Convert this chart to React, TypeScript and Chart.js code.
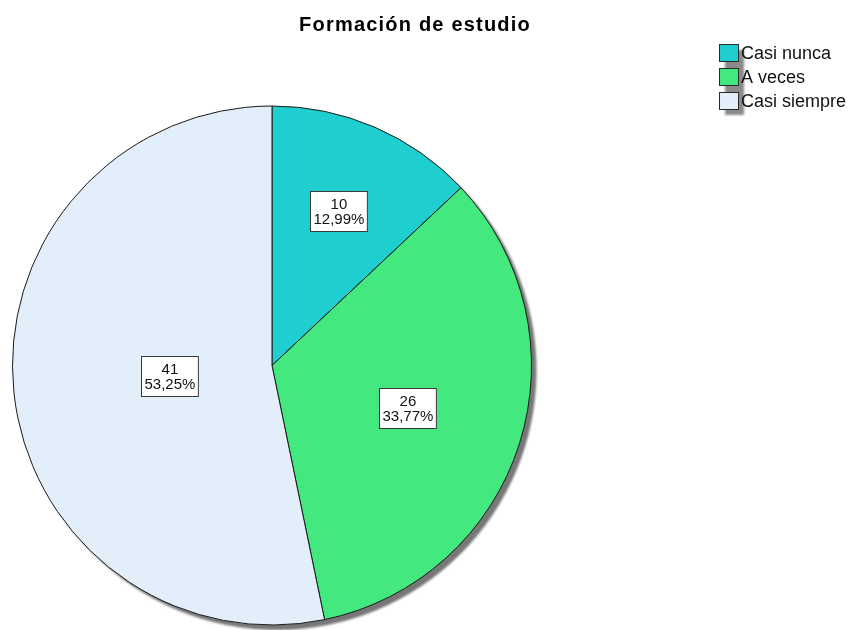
import React, { useEffect, useRef } from "react";
import { Chart, registerables } from "chart.js";

Chart.register(...registerables);

const TITLE = "Formación de estudio";
const CATEGORIES = ["Casi nunca", "A veces", "Casi siempre"];
const COUNTS = [10, 26, 41];
const COLORS = ["#1fcfcf", "#43e87e", "#e3eefb"];

const TOTAL = COUNTS.reduce((a, b) => a + b, 0);
const PERCENT_LABELS = COUNTS.map((c) => ((c / TOTAL) * 100).toFixed(2).replace(".", ",") + "%");

const FONT = "'Liberation Sans', Arial, Helvetica, sans-serif";

const decorPlugin = {
  id: "decor",
  beforeDatasetsDraw(chart: any) {
    const ctx = chart.ctx;
    const arc = chart.getDatasetMeta(0).data[0];
    if (!arc) return;
    const { x, y, outerRadius } = arc.getProps(["x", "y", "outerRadius"], true);
    ctx.save();
    ctx.filter = "blur(1px)";
    ctx.fillStyle = "#777777";
    ctx.beginPath();
    ctx.arc(x + 5, y + 5, outerRadius, 0, Math.PI * 2);
    ctx.fill();
    ctx.restore();
  },
  afterDatasetsDraw(chart: any) {
    const ctx = chart.ctx;
    const meta = chart.getDatasetMeta(0);
    ctx.save();
    ctx.font = `15px ${FONT}`;
    ctx.textAlign = "center";
    ctx.textBaseline = "middle";
    meta.data.forEach((arc: any, i: number) => {
      const { x, y, startAngle, endAngle, outerRadius } = arc.getProps(
        ["x", "y", "startAngle", "endAngle", "outerRadius"],
        true
      );
      const mid = (startAngle + endAngle) / 2;
      const half = (endAngle - startAngle) / 2;
      const d = (2 * outerRadius * Math.sin(half)) / (3 * half);
      const cx = x + d * Math.cos(mid);
      const cy = y + d * Math.sin(mid);
      const l1 = String(COUNTS[i]);
      const l2 = PERCENT_LABELS[i];
      const w = Math.max(ctx.measureText(l1).width, ctx.measureText(l2).width) + 6;
      const h = 40;
      const bx = Math.round(cx - w / 2) + 0.5;
      const by = Math.round(cy - h / 2) + 0.5;
      ctx.fillStyle = "#ffffff";
      ctx.fillRect(bx, by, w, h);
      ctx.strokeStyle = "#3a3a3a";
      ctx.lineWidth = 1;
      ctx.strokeRect(bx, by, w, h);
      ctx.fillStyle = "#111111";
      ctx.fillText(l1, bx + w / 2, by + h / 2 - 7);
      ctx.fillText(l2, bx + w / 2, by + h / 2 + 8);
    });
    ctx.restore();
  },
  afterDraw(chart: any) {
    const ctx = chart.ctx;
    ctx.save();
    // Title
    ctx.font = `bold 20px ${FONT}`;
    (ctx as any).letterSpacing = "1.2px";
    ctx.fillStyle = "#000000";
    ctx.textAlign = "center";
    ctx.textBaseline = "alphabetic";
    ctx.fillText(TITLE, 415, 31);
    (ctx as any).letterSpacing = "0px";

    // Legend
    const lx = 719;
    const ly = 44;
    const bw = 19;
    const bh = 17;
    const pitch = 24;
    const n = CATEGORIES.length;
    ctx.save();
    ctx.filter = "blur(1px)";
    ctx.fillStyle = "#8a8a8a";
    ctx.fillRect(lx + 6, ly + 6, bw, (n - 1) * pitch + bh);
    ctx.restore();
    ctx.font = `18px ${FONT}`;
    ctx.textAlign = "left";
    ctx.textBaseline = "middle";
    CATEGORIES.forEach((cat, i) => {
      const y = ly + i * pitch;
      ctx.fillStyle = COLORS[i];
      ctx.fillRect(lx + 0.5, y + 0.5, bw, bh);
      ctx.strokeStyle = "#2a2a2a";
      ctx.lineWidth = 1;
      ctx.strokeRect(lx + 0.5, y + 0.5, bw, bh);
      ctx.fillStyle = "#111111";
      ctx.fillText(cat, lx + bw + 3, y + bh / 2 + 2);
    });
    ctx.restore();
  },
};

export default function App() {
  const ref = useRef<HTMLCanvasElement | null>(null);
  useEffect(() => {
    if (!ref.current) return;
    const chart = new Chart(ref.current, {
      type: "pie",
      data: {
        labels: CATEGORIES,
        datasets: [
          {
            data: COUNTS,
            backgroundColor: COLORS,
            borderColor: "#1a1a1a",
            borderWidth: 1,
          },
        ],
      },
      options: {
        responsive: false,
        animation: false,
        devicePixelRatio: 1,
        layout: { padding: { left: 12, right: 321, top: 105, bottom: 4 } },
        plugins: {
          legend: { display: false },
          title: { display: false },
          tooltip: { enabled: false },
        },
      },
      plugins: [decorPlugin],
    });
    return () => chart.destroy();
  }, []);
  return (
    <div style={{ position: "absolute", left: 0, top: 0, width: 853, height: 630, background: "#ffffff" }}>
      <canvas ref={ref} width={853} height={630} />
    </div>
  );
}
